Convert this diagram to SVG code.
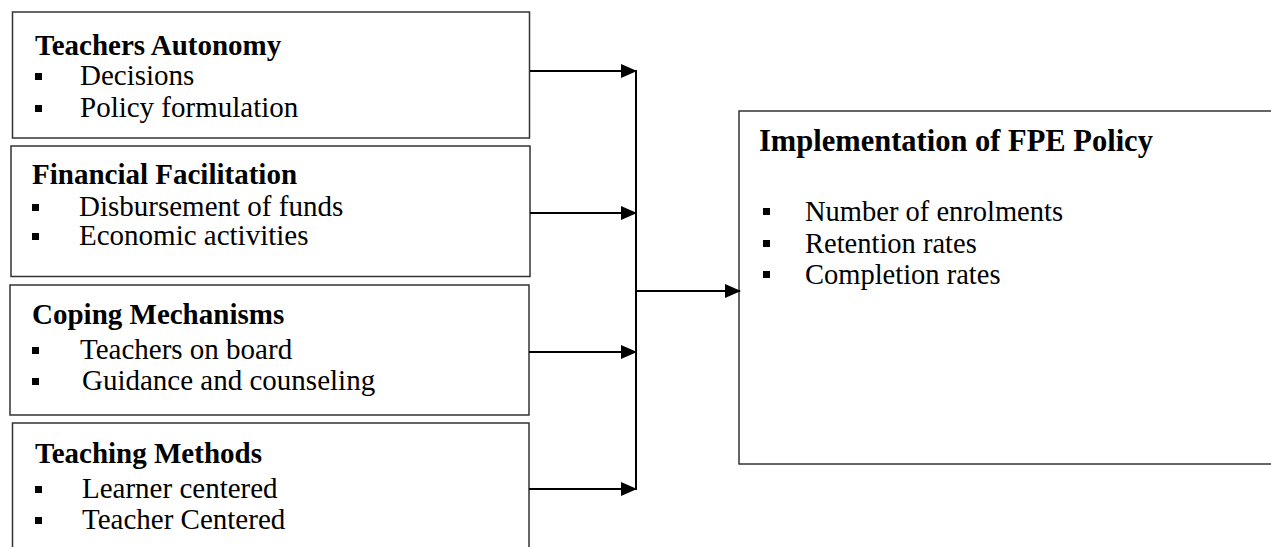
<svg xmlns="http://www.w3.org/2000/svg" width="1271" height="547" viewBox="0 0 1271 547">
<style>
.box{fill:#fff;stroke:#333;stroke-width:1.5}
.t{font-family:"Liberation Serif","Times New Roman",serif;font-size:29px;fill:#000}
.h{font-weight:bold}
.b{fill:#000}
.c{stroke:#000;stroke-width:2;fill:none}
</style>
<defs>
<marker id="ah" markerWidth="16" markerHeight="14" refX="15" refY="7" orient="auto" markerUnits="userSpaceOnUse">
<path d="M0,0 L16,7 L0,14 Z" fill="#000"/>
</marker>
</defs>
<rect width="1271" height="547" fill="#fff"/>
<g id="teachers-autonomy">
<rect class="box" x="12.5" y="12" width="517" height="126"/>
<text class="t h" x="35" y="55">Teachers Autonomy</text>
<rect class="b" x="35" y="73" width="7" height="7"/>
<text class="t" x="80" y="85">Decisions</text>
<rect class="b" x="35" y="105" width="7" height="7"/>
<text class="t" x="80" y="117">Policy formulation</text>
</g>
<g id="financial-facilitation">
<rect class="box" x="11" y="146" width="519" height="130.5"/>
<text class="t h" x="32" y="184">Financial Facilitation</text>
<rect class="b" x="32" y="204" width="7" height="7"/>
<text class="t" x="79" y="216">Disbursement of funds</text>
<rect class="b" x="32" y="233" width="7" height="7"/>
<text class="t" x="79" y="245">Economic activities</text>
</g>
<g id="coping-mechanisms">
<rect class="box" x="10" y="285" width="519" height="130"/>
<text class="t h" x="32" y="324">Coping Mechanisms</text>
<rect class="b" x="32" y="347" width="7" height="7"/>
<text class="t" x="80" y="359">Teachers on board</text>
<rect class="b" x="32" y="378" width="7" height="7"/>
<text class="t" x="82" y="390">Guidance and counseling</text>
</g>
<g id="teaching-methods">
<rect class="box" x="12.5" y="423" width="516.5" height="140"/>
<text class="t h" x="35" y="463">Teaching Methods</text>
<rect class="b" x="35" y="486" width="7" height="7"/>
<text class="t" x="82" y="498">Learner centered</text>
<rect class="b" x="35" y="517" width="7" height="7"/>
<text class="t" x="82" y="529">Teacher Centered</text>
</g>
<g id="fpe-implementation">
<rect class="box" x="739" y="111" width="560" height="353"/>
<text class="t h" x="759" y="151" style="font-size:30.5px">Implementation of FPE Policy</text>
<rect class="b" x="763" y="208" width="7" height="7"/>
<text class="t" x="805" y="221" style="font-size:28.5px">Number of enrolments</text>
<rect class="b" x="763" y="240" width="7" height="7"/>
<text class="t" x="805" y="253" style="font-size:28.5px">Retention rates</text>
<rect class="b" x="763" y="271" width="7" height="7"/>
<text class="t" x="805" y="284" style="font-size:28.5px">Completion rates</text>
</g>
<g id="connectors">
<line class="c" x1="530" y1="71" x2="636" y2="71" marker-end="url(#ah)"/>
<line class="c" x1="530" y1="213" x2="636" y2="213" marker-end="url(#ah)"/>
<line class="c" x1="529" y1="352" x2="636" y2="352" marker-end="url(#ah)"/>
<line class="c" x1="529" y1="489" x2="636" y2="489" marker-end="url(#ah)"/>
<line class="c" x1="636" y1="70" x2="636" y2="490"/>
<line class="c" x1="636" y1="291" x2="740" y2="291" marker-end="url(#ah)"/>
</g>
</svg>
